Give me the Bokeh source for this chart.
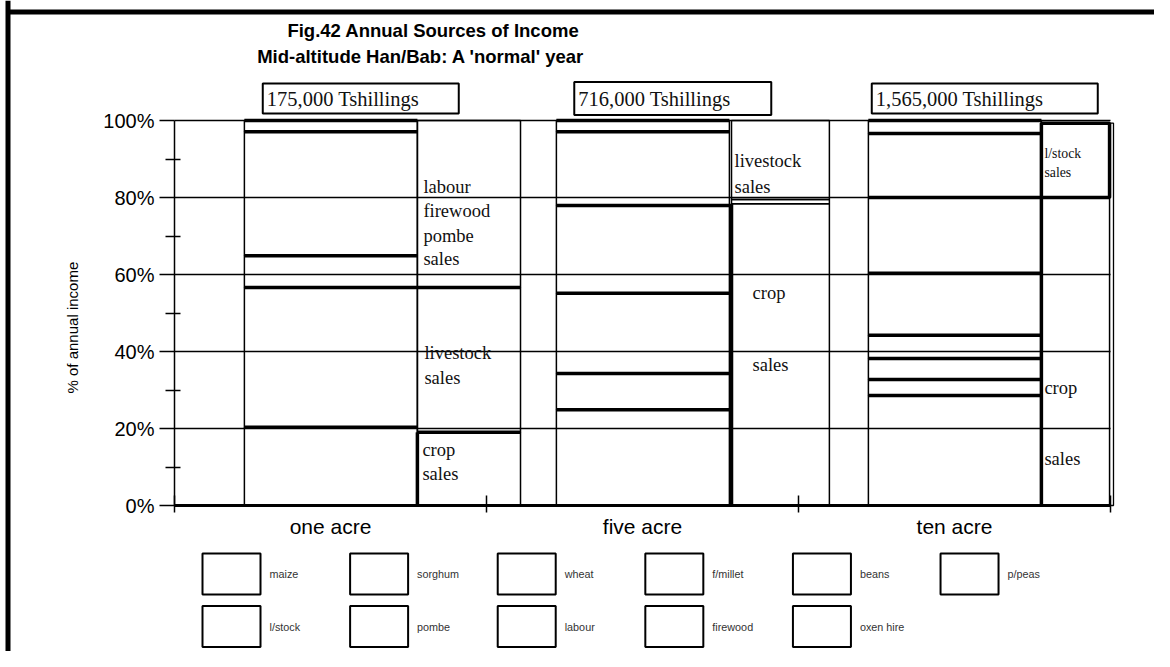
import math
from bokeh.plotting import figure
from bokeh.models import ColumnDataSource, Range1d, LinearAxis, FixedTicker
from bokeh.embed import file_html
from bokeh.resources import INLINE
from bokeh.core.properties import value

# ---------------- data ----------------
groups = ["one acre", "five acre", "ten acre"]
incomes = ["175,000 Tshillings", "716,000 Tshillings", "1,565,000 Tshillings"]
sources = ["maize", "sorghum", "wheat", "f/millet", "beans", "p/peas",
           "l/stock", "pombe", "labour", "firewood", "oxen hire"]

# detailed income shares (%) per source, in legend order
one_acre = [20.3, 0, 0, 0, 0, 0, 36.3, 8.3, 32.2, 2.9, 0]
five_acre = [24.9, 9.4, 20.8, 0, 22.8, 0, 19.2, 0, 2.9, 0, 0]
ten_acre = [28.6, 4.1, 5.5, 6.0, 16.1, 19.7, 16.6, 0, 3.4, 0, 0]

# summary shares (%)
crop_sales = [19.0, 78.4, 80.0]
livestock_sales = [37.6, 20.5, 19.3]
other_sales = [43.4, 1.1, 0.0]
summary_order = [["crop", "livestock", "other"],
                 ["crop", "other", "livestock"],
                 ["crop", "livestock"]]

title_lines = ["Fig.42  Annual Sources of Income",
               "Mid-altitude Han/Bab:  A 'normal' year"]
y_ticks = [0, 20, 40, 60, 80, 100]
y_minor = [10, 30, 50, 70, 90]
y_tick_labels = ["0%", "20%", "40%", "60%", "80%", "100%"]
y_label = "% of annual income"

summary_texts = [["labour", "firewood", "pombe", "sales", "livestock", "sales", "crop", "sales"],
                 ["livestock", "sales", "crop", "sales"],
                 ["l/stock", "sales", "crop", "sales"]]

# ---------------- layout / style ----------------
W, H = 1154, 651
PX_X = 312.0          # pixels per group
PX_Y = 3.85           # pixels per percent
X0, Y0 = 174, 505     # pixel position of (0, 0%)
XMIN, XMAX = -X0 / PX_X, (W - X0) / PX_X
YMIN, YMAX = -(H - Y0) / PX_Y, Y0 / PX_Y

BAR1_LEFT, BAR1_W = 0.224, 0.5545
BAR2_LEFT = [0.7785, 0.7853, 0.7785]
BAR2_RIGHT = [1.109, 1.099, 0.997]
BAR2_LW = [{"crop": 1.5, "livestock": 1.5, "other": 1.5},
           {"crop": 1.5, "livestock": 1.5, "other": 1.5},
           {"crop": 1.5, "livestock": 3.5}]
BAR2_THICK_TOP = [["crop", "livestock"], [], []]
BAR2_OUTER_RIGHT = [None, None, 1.0096]   # extra thin outline around the whole summary bar
TEXT_POS = [  # (y in %, x offset px from summary bar left, size px)
    [(82.6, 6, 18.5), (76.6, 6, 18.5), (70.1, 6, 18.5), (64.1, 6, 18.5),
     (39.7, 7, 18.5), (33.2, 7, 18.5), (14.5, 5, 18.5), (8.3, 5, 18.5)],
    [(89.6, 3, 18.5), (82.6, 3, 18.5), (55.3, 21, 18.5), (36.4, 21, 18.5)],
    [(91.4, 3, 13.8), (86.5, 3, 13.8), (30.6, 3, 18.5), (12.2, 3, 18.5)],
]
INCOME_CX, INCOME_Y = 0.597, 105.7
INCOME_W = [196, 197, 226]
INCOME_H = [30, 33, 30]
TITLE_POS = [(0.838, 123.4), (0.798, 116.6)]
YLABEL_POS = (-0.327, 46.2)
LEG_X0, LEG_DX = 0.1827, 0.4731
LEG_ROWS = [-17.8, -31.45]
LEG_COLS = 6
BORDER_X = -(X0 - 7.5) / PX_X
BORDER_Y = (Y0 - 11.5) / PX_Y

SANS = "Liberation Sans"
SERIF = "Liberation Serif"

p = figure(width=W, height=H,
           x_range=Range1d(XMIN, XMAX), y_range=Range1d(YMIN, YMAX),
           output_backend="svg", toolbar_location=None, min_border=0,
           x_axis_type=None, y_axis_type=None, outline_line_color=None,
           background_fill_color="white", border_fill_color="white")

# outer frame lines of the page (left and top)
p.segment(x0=[BORDER_X, BORDER_X], x1=[BORDER_X, XMAX], y0=[YMIN, BORDER_Y], y1=[YMAX, BORDER_Y],
          line_color="black", line_width=5)

# horizontal grid lines (0..100 %)
p.segment(x0=[0] * len(y_ticks), x1=[len(groups)] * len(y_ticks), y0=y_ticks, y1=y_ticks,
          line_color="black", line_width=1.3)

# y axis
yax = LinearAxis(ticker=FixedTicker(ticks=y_ticks, minor_ticks=y_minor),
                 major_label_overrides={t: l for t, l in zip(y_ticks, y_tick_labels)},
                 axis_line_width=1.5, axis_line_color="black",
                 major_tick_in=0, major_tick_out=15, major_tick_line_width=1.5,
                 minor_tick_in=6, minor_tick_out=9, minor_tick_line_width=1.5,
                 minor_tick_line_color="black", major_tick_line_color="black",
                 major_label_standoff=5, major_label_text_font=SANS,
                 major_label_text_font_size="20px", major_label_text_color="black",
                 bounds=(0, 100), fixed_location=0)
p.add_layout(yax, "left")

# x axis
centers = [i + 0.5 for i in range(len(groups))]
xax = LinearAxis(ticker=FixedTicker(ticks=centers, minor_ticks=list(range(len(groups) + 1))),
                 major_label_overrides={c: g for c, g in zip(centers, groups)},
                 axis_line_width=3, axis_line_color="black",
                 major_tick_line_color=None, major_tick_in=0, major_tick_out=7,
                 minor_tick_in=10, minor_tick_out=7, minor_tick_line_width=1.5,
                 minor_tick_line_color="black",
                 major_label_standoff=2, major_label_text_font=SANS,
                 major_label_text_font_size="21px", major_label_text_color="black",
                 bounds=(0, len(groups)), fixed_location=0)
p.add_layout(xax, "below")

# y axis title
p.text(x=[YLABEL_POS[0]], y=[YLABEL_POS[1]], text=[y_label], angle=math.pi / 2,
       text_align="center", text_baseline="middle", text_font=value(SANS),
       text_font_size="15px", text_color="black")

# detailed bars
b1 = dict(left=[], right=[], bottom=[], top=[])
for gi, vals in enumerate([one_acre, five_acre, ten_acre]):
    base = 0.0
    for v in vals:
        if v <= 0:
            continue
        b1["left"].append(gi + BAR1_LEFT)
        b1["right"].append(gi + BAR1_LEFT + BAR1_W)
        b1["bottom"].append(base)
        b1["top"].append(base + v)
        base += v
s1 = ColumnDataSource(b1)
p.quad(left="left", right="right", bottom="bottom", top="top", source=s1,
       fill_color=None, line_color="black", line_width=1.5)
p.segment(x0="left", x1="right", y0="top", y1="top", source=s1,
          line_color="black", line_width=3.5)

# summary bars
summ = {"crop": crop_sales, "livestock": livestock_sales, "other": other_sales}
b2 = dict(left=[], right=[], bottom=[], top=[], lw=[])
thick = dict(x0=[], x1=[], y0=[], y1=[])
outer = dict(left=[], right=[], bottom=[], top=[])
for gi, order in enumerate(summary_order):
    base = 0.0
    left, right = gi + BAR2_LEFT[gi], gi + BAR2_RIGHT[gi]
    for key in order:
        v = summ[key][gi]
        if v <= 0:
            continue
        b2["left"].append(left)
        b2["right"].append(right)
        b2["bottom"].append(base)
        b2["top"].append(base + v)
        b2["lw"].append(BAR2_LW[gi][key])
        if key == "crop":   # heavy left edge of the crop-sales box
            thick["x0"].append(left); thick["x1"].append(left)
            thick["y0"].append(0); thick["y1"].append(base + v)
        if key in BAR2_THICK_TOP[gi]:
            thick["x0"].append(left); thick["x1"].append(right)
            thick["y0"].append(base + v); thick["y1"].append(base + v)
        base += v
    if BAR2_OUTER_RIGHT[gi] is not None:
        outer["left"].append(left)
        outer["right"].append(gi + BAR2_OUTER_RIGHT[gi])
        outer["bottom"].append(0)
        outer["top"].append(crop_sales[gi] + livestock_sales[gi] + other_sales[gi])
p.quad(left="left", right="right", bottom="bottom", top="top", source=ColumnDataSource(outer),
       fill_color=None, line_color="black", line_width=1.3)
p.quad(left="left", right="right", bottom="bottom", top="top", source=ColumnDataSource(b2),
       fill_color=None, line_color="black", line_width="lw")
p.segment(x0="x0", x1="x1", y0="y0", y1="y1", source=ColumnDataSource(thick),
          line_color="black", line_width=3.5)

# texts in summary bars
t = dict(x=[], y=[], text=[], xo=[], size=[])
for gi, texts in enumerate(summary_texts):
    for txt, (yy, xo, sz) in zip(texts, TEXT_POS[gi]):
        t["x"].append(gi + BAR2_LEFT[gi])
        t["y"].append(yy)
        t["text"].append(txt)
        t["xo"].append(xo)
        t["size"].append(f"{sz}px")
p.text(x="x", y="y", text="text", x_offset="xo", source=ColumnDataSource(t),
       text_font=value(SERIF), text_font_size="size", text_baseline="middle",
       text_align="left", text_color="#111111")

# titles
p.text(x=[q[0] for q in TITLE_POS], y=[q[1] for q in TITLE_POS], text=title_lines,
       text_align="center", text_baseline="middle", text_font=value(SANS),
       text_font_style="bold", text_font_size="18.5px", text_color="black")

# income boxes
inc = ColumnDataSource(dict(x=[i + INCOME_CX for i in range(len(incomes))],
                            y=[INCOME_Y] * len(incomes), text=incomes,
                            w=INCOME_W, h=INCOME_H,
                            xo=[-w / 2 + 4 for w in INCOME_W]))
p.rect(x="x", y="y", width="w", height="h", width_units="screen", height_units="screen",
       source=inc, fill_color="white", line_color="black", line_width=2)
p.text(x="x", y="y", text="text", x_offset="xo", source=inc, text_align="left",
       text_baseline="middle", text_font=value(SERIF), text_font_size="20.5px",
       text_color="#111111")

# legend (drawn as boxes + labels in a grid under the axis)
leg = ColumnDataSource(dict(
    x=[LEG_X0 + (i % LEG_COLS) * LEG_DX for i in range(len(sources))],
    y=[LEG_ROWS[i // LEG_COLS] for i in range(len(sources))],
    name=sources))
p.rect(x="x", y="y", width=58, height=41, width_units="screen", height_units="screen",
       source=leg, fill_color="white", line_color="black", line_width=2)
p.text(x="x", y="y", text="name", source=leg, x_offset=38, text_baseline="middle",
       text_font=value(SANS), text_font_size="10.8px", text_color="#333333")

open("out.html", "w").write(file_html(p, INLINE))
